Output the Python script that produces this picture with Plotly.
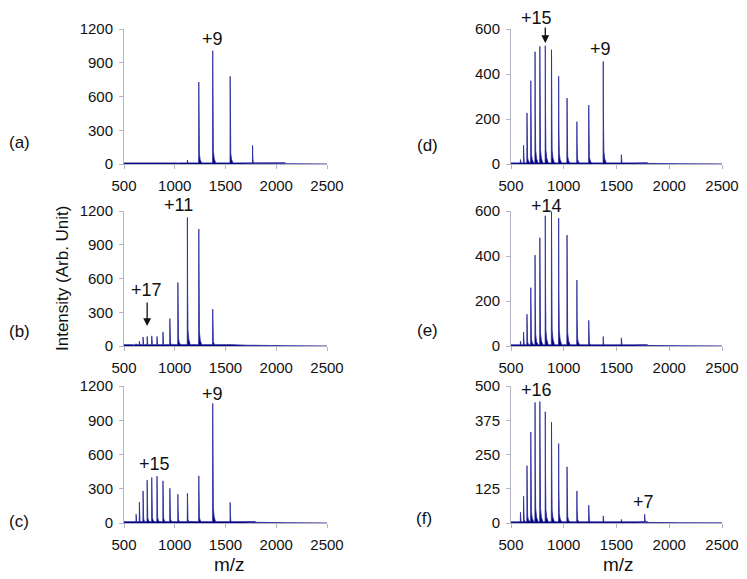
import plotly.graph_objects as go

W, H = 747, 579
OFF = 8  # browser body margin

# charge-state peak positions (m/z), charges 21 .. 6
MZ = [589.6, 619.0, 651.5, 687.7, 728.1, 773.5, 825.0, 883.9, 951.8,
      1031.0, 1124.6, 1237.0, 1374.3, 1546.0, 1766.7, 2061.0]

# peak heights for each panel (same order as MZ)
HEIGHT_A = [12, 10, 0, 0, 0, 0, 0, 0, 0, 5, 35, 729, 1007, 779, 166, 6]
HEIGHT_B = [5, 20, 42, 80, 85, 90, 85, 125, 244, 564, 1143, 1040, 327, 15, 0, 0]
HEIGHT_C = [18, 76, 184, 281, 375, 398, 410, 369, 304, 252, 260, 413, 1048, 181, 5, 0]
HEIGHT_D = [20, 83, 227, 370, 499, 523, 526, 508, 390, 293, 188, 262, 456, 41, 5, 0]
HEIGHT_E = [21, 62, 141, 259, 404, 481, 579, 597, 568, 493, 293, 114, 42, 36, 3, 0]
HEIGHT_F = [39, 98, 209, 332, 440, 443, 406, 368, 290, 205, 117, 65, 26, 13, 32, 0]

# baseline level of each panel (in units of a 1200-full-scale panel)
BASELINE = [10, 12, 12, 10, 10, 10]

X_TICKS = [500, 1000, 1500, 2000, 2500]
Y_TICKS_ABC = [0, 300, 600, 900, 1200]
Y_TICKS_DE = [0, 200, 400, 600]
Y_TICKS_F = [0, 125, 250, 375, 500]

PANEL_LABELS = ["(a)", "(b)", "(c)", "(d)", "(e)", "(f)"]

NAVY = "#000080"
SPIKE = "#2a2a9c"
FONT = "Liberation Sans, Arial, sans-serif"


def spectrum(mz, hts, base):
    xs, ys = [500.0], [base]
    for i, (m, h) in enumerate(zip(mz, hts)):
        if h <= 0:
            continue
        nxt = mz[i + 1] - 2 if i + 1 < len(mz) else 2500
        shape = [(m - 1.5, base), (m, h), (m + 2, max(base, 0.45 * h)),
                 (m + 6, max(base, 0.12 * h)), (m + 14, max(base, 0.05 * h)),
                 (m + 28, base)]
        for x, y in shape:
            if x < nxt:
                xs.append(x)
                ys.append(y)
    xs += [1700, 2100, 2500]
    ys += [base * 0.6, base * 0.25, 0.5]
    return xs, ys


def fx(x):
    return (x - OFF) / W


def fy(y):
    return 1 - (y - OFF) / H


heights = [HEIGHT_A, HEIGHT_B, HEIGHT_C, HEIGHT_D, HEIGHT_E, HEIGHT_F]
yranges = [1200, 1200, 1200, 600, 600, 500]
yticks = [Y_TICKS_ABC, Y_TICKS_ABC, Y_TICKS_ABC, Y_TICKS_DE, Y_TICKS_DE, Y_TICKS_F]

colx = [(fx(124), fx(327)), (fx(511), fx(722))]
rowy = [(fy(164), fy(29)), (fy(346), fy(211)), (fy(523), fy(386))]

fig = go.Figure()
layout = dict(template="none", width=W, height=H, autosize=False,
              margin=dict(l=0, r=0, t=0, b=0, pad=0, autoexpand=False),
              paper_bgcolor="white", plot_bgcolor="white",
              showlegend=False, font=dict(family=FONT, size=15, color="#111"))

for k in range(6):
    col, row = k // 3, k % 3
    n = "" if k == 0 else str(k + 1)
    xs, ys = spectrum(MZ, heights[k], BASELINE[k] * yranges[k] / 1200)
    fig.add_trace(go.Scatter(x=xs, y=ys, mode="lines",
                             line=dict(color=SPIKE, width=0.8),
                             fill="tozeroy", fillcolor=NAVY,
                             xaxis="x" + n, yaxis="y" + n, hoverinfo="skip"))
    axstyle = dict(showline=True, linecolor="#b4b4c4", linewidth=1,
                   showgrid=False, zeroline=False, ticks="outside",
                   ticklen=4, tickcolor="#b4b4c4", automargin=False,
                   tickfont=dict(family=FONT, size=15, color="#111"))
    layout["xaxis" + n] = dict(domain=list(colx[col]), range=[500, 2500],
                               tickvals=X_TICKS, anchor="y" + n,
                               ticklabelstandoff=4, **axstyle)
    layout["yaxis" + n] = dict(domain=list(rowy[row]), range=[0, yranges[k]],
                               tickvals=yticks[k], anchor="x" + n,
                               ticklabelstandoff=3, **axstyle)

fig.update_layout(**layout)

anns = []
# panel labels
for lab, (x, y) in zip(PANEL_LABELS, [(19, 143), (19, 331), (19, 521),
                                      (427, 145), (427, 330), (424, 518)]):
    anns.append(dict(text=lab, x=fx(x), y=fy(y), xref="paper", yref="paper",
                     xanchor="center", yanchor="middle",
                     showarrow=False, font=dict(size=17, color="#111")))

# axis titles
anns.append(dict(text="Intensity (Arb. Unit)", x=fx(62), y=fy(278),
                 xref="paper", yref="paper", xanchor="center", yanchor="middle",
                 textangle=-90, showarrow=False, font=dict(size=17, color="#111")))
for x in (230, 618):
    anns.append(dict(text="m/z", x=fx(x), y=fy(564), xref="paper", yref="paper",
                     xanchor="center", yanchor="middle",
                     showarrow=False, font=dict(size=19, color="#111")))

# charge-state labels (text, m/z, intensity, panel index)
CHARGE_LABELS = [("+9", 1367, 1114, 0), ("+11", 1039, 1253, 1), ("+17", 720, 502, 1),
                 ("+9", 1374, 1130, 2), ("+15", 802, 521, 2), ("+15", 745, 648, 3),
                 ("+9", 1350, 513, 3), ("+14", 833, 623, 4), ("+16", 745, 485, 5),
                 ("+7", 1760, 77, 5)]
for txt, x, y, k in CHARGE_LABELS:
    n = "" if k == 0 else str(k + 1)
    anns.append(dict(text=txt, x=x, y=y / yranges[k], xref="x" + n,
                     yref="y" + n + " domain", xanchor="center", yanchor="middle",
                     showarrow=False, font=dict(size=18, color="#111")))

# arrows (tip m/z, tip y, tail y, panel)
ARROWS = [(728.1, 178, 401, 1), (825.0, 538, 613, 3)]
for x, y0, y1, k in ARROWS:
    n = str(k + 1)
    anns.append(dict(x=x, y=y0, ax=x, ay=y1, xref="x" + n, yref="y" + n,
                     axref="x" + n, ayref="y" + n, text="", showarrow=True,
                     arrowhead=2, arrowsize=1.2, arrowwidth=1.3, arrowcolor="#111"))

fig.update_layout(annotations=anns)
fig.write_html("out.html")
